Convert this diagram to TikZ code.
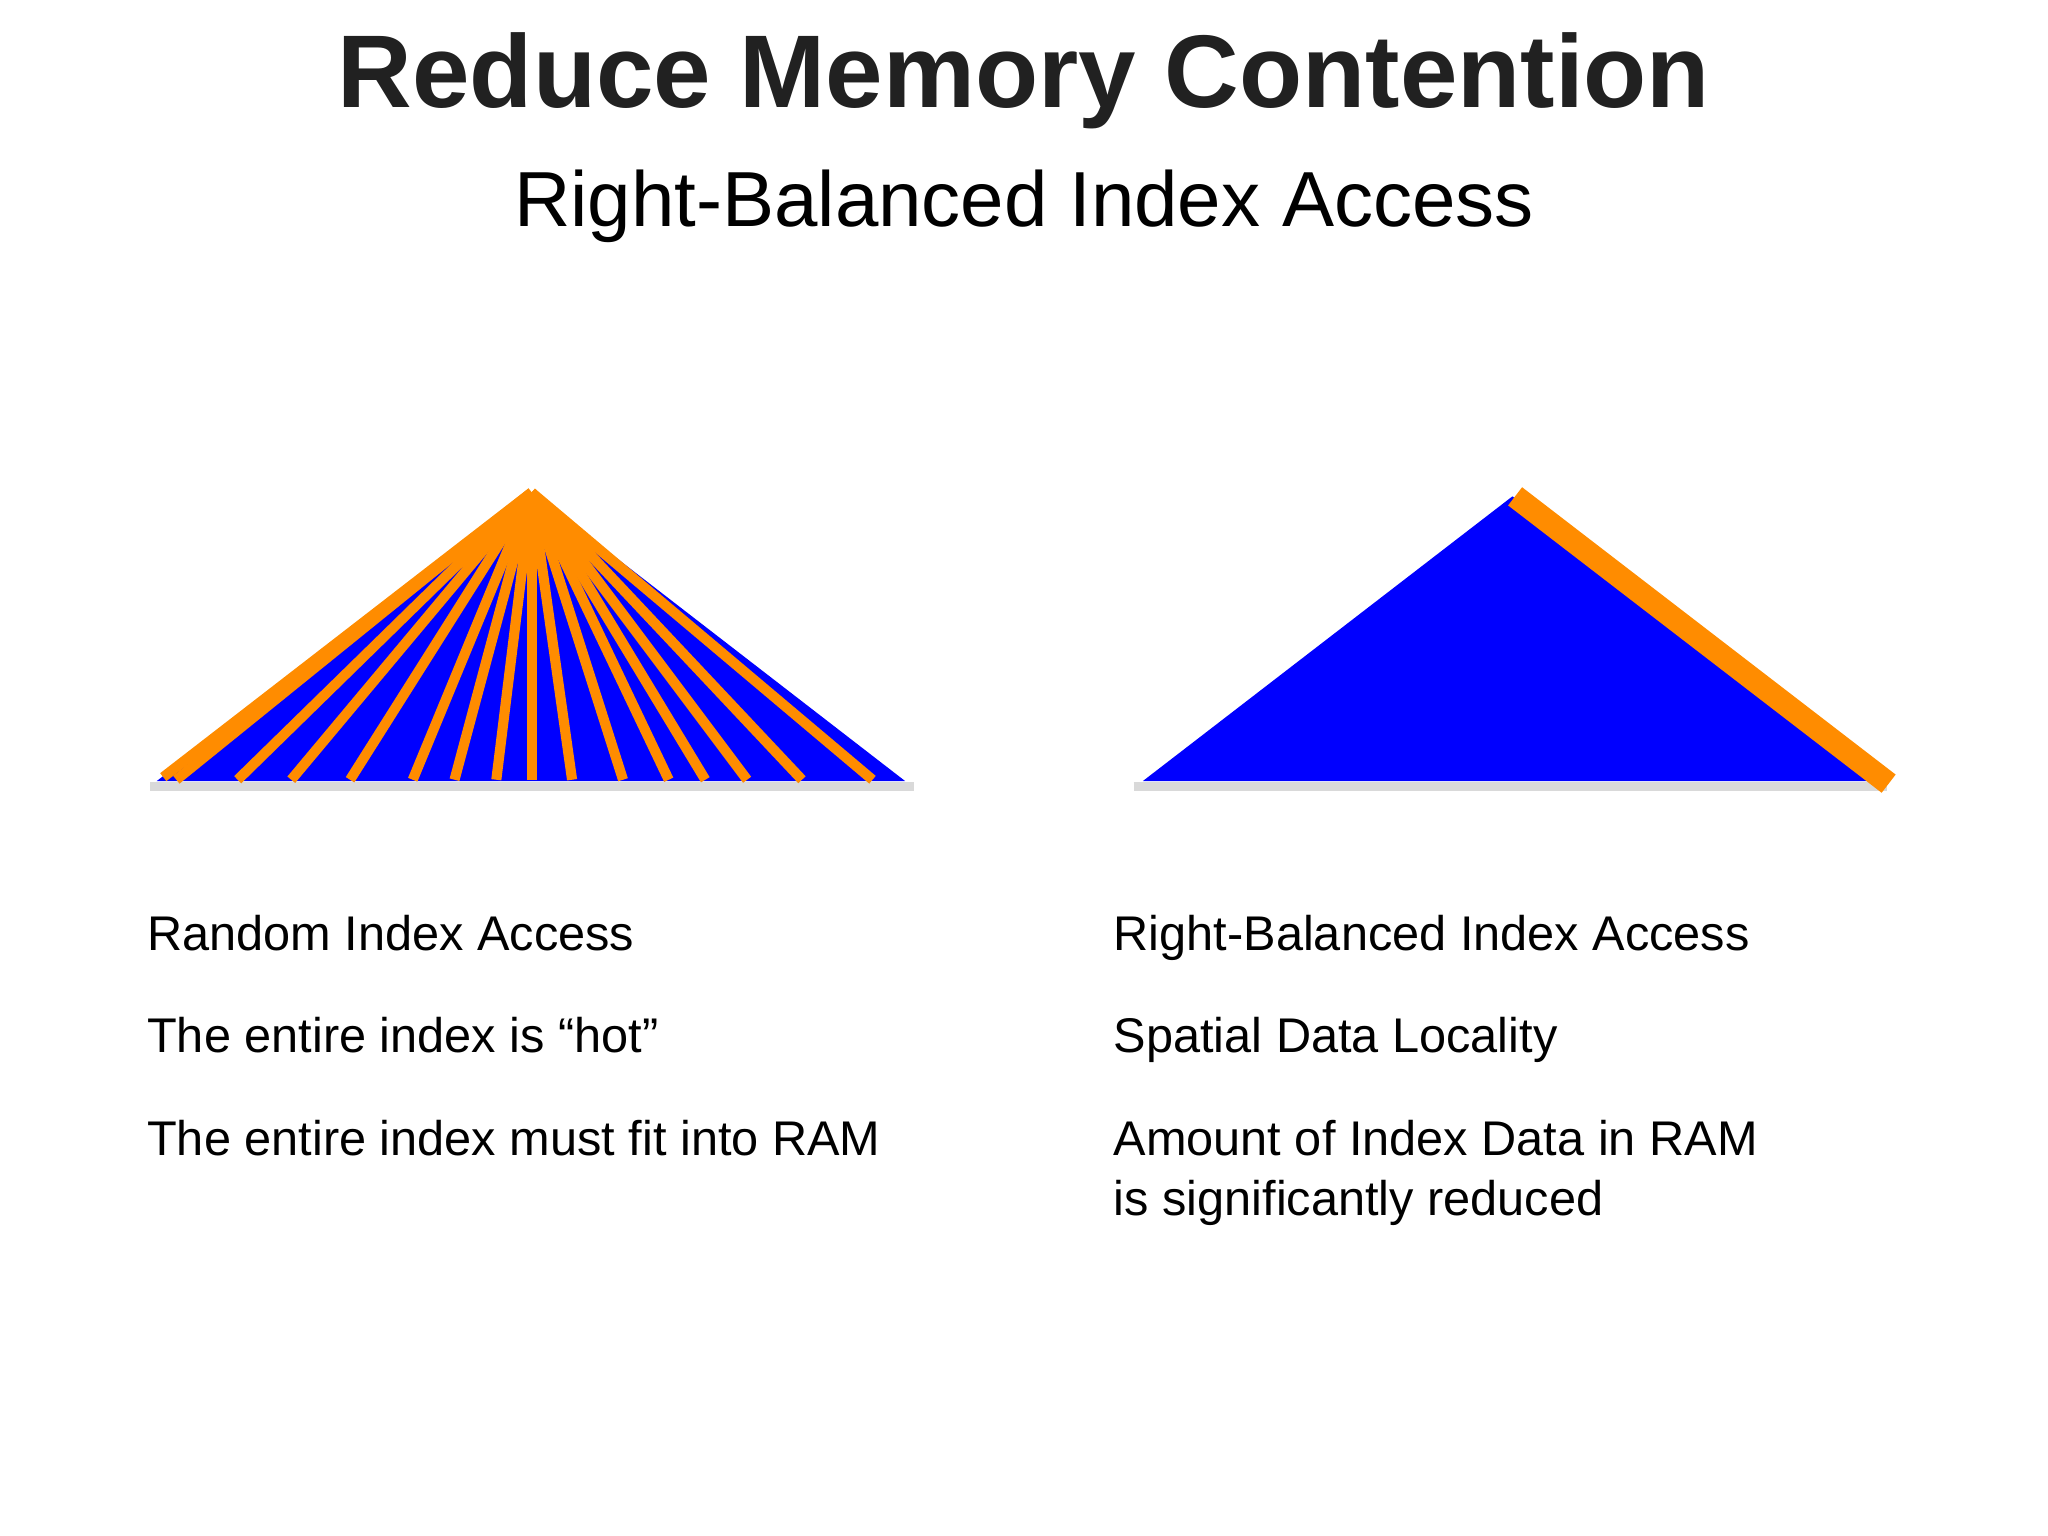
\documentclass[tikz,border=0pt]{standalone}
\usepackage{fontspec}
\setmainfont{Liberation Sans}
\begin{document}
\begin{tikzpicture}[x=0.01cm,y=-0.01cm,
  tri/.style={fill=blue,draw=none},
  ray/.style={draw=orange!90!yellow,line width=2.2pt},
  txt/.style={anchor=base west,font=\fontsize{10.6}{13}\selectfont,inner sep=0pt},
  base/.style={draw=gray!30,line width=2pt}]
\useasboundingbox (0,0) rectangle (1568,1176);
\node[font=\fontsize{22.5}{26}\selectfont\bfseries,text=black!87] (title) at (784,62) {Reduce Memory Contention};
\node[font=\fontsize{17}{20}\selectfont] (sub) at (784,158) {Right-Balanced Index Access};
% left
\draw[base] (115,602) -- (700,602);
\fill[tri] (407,377) -- (693,598) -- (120,598) -- cycle;
\coordinate (apex) at (407,377);
\foreach \x in {135,182,223,268,316,348,380,407,438,477,512,540,572,614,668}
  \draw[ray] (apex) -- (\x,597);
\draw[ray] (apex) -- (125,595);
% right
\draw[base] (868,602) -- (1445,602);
\fill[tri] (1158,380) -- (1440,598) -- (875,598) -- cycle;
\coordinate (ra) at (1160,380);
\coordinate (rb) at (1446,600);
\draw[draw=orange!90!yellow,line width=5pt] (ra) -- (rb);
% texts
\node[txt] (l1) at (112,728) {Random Index Access};
\node[txt] (l2) at (112,806) {The entire index is “hot”};
\node[txt] (l3) at (112,885) {The entire index must fit into RAM};
\node[txt] (r1) at (852,728) {Right-Balanced Index Access};
\node[txt] (r2) at (852,806) {Spatial Data Locality};
\node[txt] (r3) at (852,885) {Amount of Index Data in RAM};
\node[txt] (r4) at (852,931) {is significantly reduced};
\end{tikzpicture}
\end{document}
